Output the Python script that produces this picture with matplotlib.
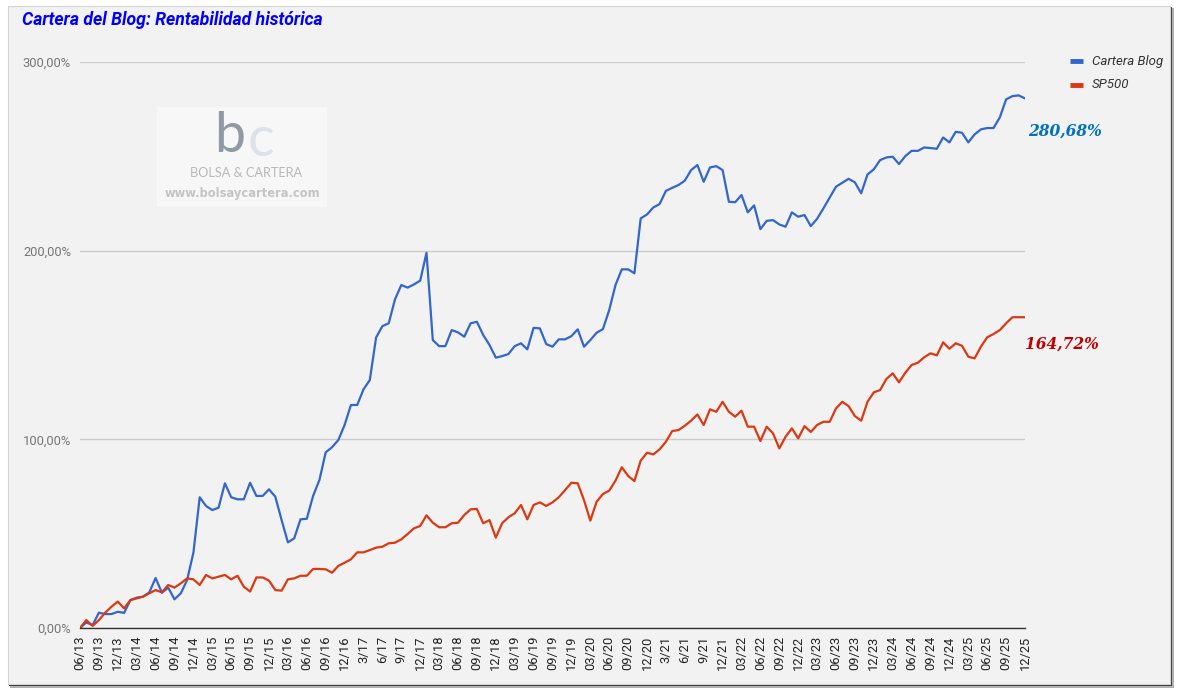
import matplotlib
matplotlib.use("Agg")
import matplotlib.pyplot as plt
from matplotlib.patches import Rectangle
from matplotlib.lines import Line2D
from matplotlib.ticker import FuncFormatter

# ---- data (monthly 06/13 .. 12/25) ----
tick_labels = ["06/13", "09/13", "12/13",
               "03/14", "06/14", "09/14", "12/14",
               "03/15", "06/15", "09/15", "12/15",
               "03/16", "06/16", "09/16", "12/16",
               "3/17", "6/17", "9/17", "12/17",
               "03/18", "06/18", "09/18", "12/18",
               "03/19", "06/19", "09/19", "12/19",
               "03/20", "06/20", "09/20", "12/20",
               "3/21", "6/21", "9/21", "12/21",
               "03/22", "06/22", "09/22", "12/22",
               "03/23", "06/23", "09/23", "12/23",
               "03/24", "06/24", "09/24", "12/24",
               "03/25", "06/25", "09/25", "12/25"]

cartera_blog = [0, 2.9, 1.6, 8.1, 7.4, 7.4, 8.6, 8.0, 14.8, 16.1,
                16.6, 18.9, 26.5, 18.7, 21.4, 15.2, 18.4, 25.4, 39.9, 69.3,
                64.7, 62.5, 63.8, 76.7, 69.3, 68.2, 68.2, 77.0, 70.0, 70.0,
                73.5, 69.6, 57.2, 45.4, 47.5, 57.6, 57.9, 70.0, 78.4, 93.1,
                95.8, 99.6, 107.6, 118.2, 118.2, 126.5, 131.4, 154.0, 160.0, 161.5,
                174.2, 181.8, 180.4, 182.1, 184.1, 198.9, 152.6, 149.4, 149.4, 157.9,
                156.7, 154.4, 161.5, 162.3, 155.3, 150.0, 143.3, 144.1, 145.2, 149.4,
                150.9, 147.7, 159.1, 158.8, 150.5, 149.1, 153.0, 153.0, 154.7, 158.3,
                149.1, 152.6, 156.5, 158.4, 168.5, 181.8, 190.1, 190.1, 188.0, 217.1,
                219.2, 222.9, 224.7, 231.7, 233.3, 234.8, 237.1, 242.7, 245.4, 236.5,
                244.1, 244.8, 242.7, 225.9, 225.7, 229.5, 220.3, 224.0, 211.4, 215.8,
                216.2, 213.9, 212.7, 220.3, 218.0, 218.9, 213.0, 216.9, 222.4, 228.2,
                233.9, 236.0, 238.1, 236.2, 230.4, 240.4, 243.1, 248.0, 249.4, 249.8,
                245.9, 250.1, 252.9, 252.9, 254.7, 254.4, 254.0, 260.0, 257.4, 263.0,
                262.5, 257.4, 261.6, 264.3, 265.0, 265.0, 270.6, 280.2, 281.9, 282.3,
                280.68]

sp500 = [0, 4.2, 1.1, 4.2, 8.1, 11.3, 14.0, 10.4, 14.8, 15.7,
         16.6, 18.4, 20.1, 18.9, 22.8, 21.4, 23.7, 26.3, 25.8, 22.8,
         28.1, 26.3, 27.2, 28.1, 25.8, 27.7, 21.9, 19.3, 26.8, 26.8,
         25.1, 20.1, 19.8, 25.8, 26.3, 27.7, 27.7, 31.3, 31.3, 31.1,
         29.3, 32.9, 34.6, 36.4, 40.1, 40.1, 41.3, 42.6, 43.1, 44.9,
         45.2, 47.0, 49.8, 52.8, 54.1, 59.7, 55.8, 53.4, 53.4, 55.5,
         55.8, 59.9, 62.9, 63.1, 55.5, 57.2, 47.9, 55.5, 58.7, 60.8,
         65.2, 57.6, 65.2, 66.6, 64.7, 66.6, 69.3, 73.1, 77.0, 76.7,
         67.8, 56.9, 66.9, 71.0, 72.8, 78.1, 85.2, 80.6, 77.9, 88.7,
         92.9, 92.0, 94.7, 98.7, 104.4, 104.9, 107.2, 109.9, 113.2, 107.6,
         115.9, 114.6, 119.9, 114.6, 112.0, 115.2, 106.7, 106.7, 99.1, 106.7,
         103.2, 95.2, 101.4, 105.8, 100.5, 107.0, 103.9, 107.6, 109.3, 109.3,
         116.4, 119.9, 117.6, 112.3, 109.9, 119.9, 124.9, 126.1, 132.0, 135.0,
         130.2, 135.3, 139.4, 140.6, 143.5, 145.6, 144.5, 151.4, 148.0, 150.9,
         149.6, 143.8, 142.9, 149.1, 154.1, 155.8, 157.9, 161.5, 164.72, 164.72,
         164.72]

series_names = ["Cartera Blog", "SP500"]
series_colors = ["#3366cc", "#dc3912"]

W, H = 1178, 692
fig = plt.figure(figsize=(W / 100, H / 100), dpi=100, facecolor="white")


def fx(x):
    return x / W


def fy(y):
    return 1 - y / H


# panel with shadow
fig.add_artist(Rectangle((fx(10), fy(688)), fx(1164), 680 / H, transform=fig.transFigure,
                         facecolor="#b0b0b0", edgecolor="none", zorder=0))
fig.add_artist(Rectangle((fx(9), fy(686)), fx(1163), 679 / H, transform=fig.transFigure,
                         facecolor="#3c3c3c", edgecolor="none", zorder=0))
fig.add_artist(Rectangle((fx(8), fy(684)), fx(1162), 678 / H, transform=fig.transFigure,
                         facecolor="#f2f2f2", edgecolor="#d4d4d4", lw=0.8, zorder=0))

# plot area
left, right, top, bottom = 80, 1025, 62, 628
ax = fig.add_axes([fx(left), fy(bottom), fx(right - left), (bottom - top) / H])
ax.patch.set_visible(False)

x = list(range(len(cartera_blog)))
ax.plot(x, cartera_blog, color=series_colors[0], lw=1.6, zorder=3)
ax.plot(x, sp500, color=series_colors[1], lw=1.6, zorder=3)

ax.set_xlim(0, len(x) - 1)
ax.set_ylim(0, 300)
ax.set_yticks([0, 100, 200, 300])
ax.yaxis.set_major_formatter(FuncFormatter(lambda v, p: f"{v:.2f}%".replace(".", ",")))
ax.set_xticks(x[::3])
ax.set_xticklabels(tick_labels, rotation=90, fontsize=9.3, color="#222222", family="Roboto")
ax.tick_params(axis="x", length=0, pad=5.5)
ax.tick_params(axis="y", length=0, pad=6.5, labelsize=9.3, labelcolor="#757575")
for lab in ax.get_yticklabels():
    lab.set_family("Roboto")
ax.grid(axis="y", color="#cccccc", lw=1)
ax.set_axisbelow(True)
for s in ["top", "right", "left"]:
    ax.spines[s].set_visible(False)
ax.spines["bottom"].set_color("#333333")
ax.spines["bottom"].set_linewidth(1)
ax.spines["bottom"].set_zorder(4)

# title
fig.text(fx(22), fy(20), "Cartera del Blog: Rentabilidad histórica", fontsize=12.7,
         fontweight="bold", fontstyle="italic", color="#0000ff", family="Roboto",
         ha="left", va="center")

# legend
for i, (name, col) in enumerate(zip(series_names, series_colors)):
    yy = 61 + 24 * i
    fig.add_artist(Line2D([fx(1070), fx(1083)], [fy(yy), fy(yy)], transform=fig.transFigure,
                          color=col, lw=3.5, solid_capstyle="butt"))
    fig.text(fx(1092), fy(yy), name, fontsize=9.5, fontstyle="italic", color="#333333",
             family="Roboto", ha="left", va="center")

# final value annotations
fig.text(fx(1028), fy(131), "280,68%", fontsize=11.2, fontweight="bold", fontstyle="italic",
         color="#0070c0", family="DejaVu Serif", ha="left", va="center")
fig.text(fx(1025), fy(344), "164,72%", fontsize=11.2, fontweight="bold", fontstyle="italic",
         color="#c00000", family="DejaVu Serif", ha="left", va="center")

# watermark
fig.add_artist(Rectangle((fx(157), fy(207)), fx(170), 100 / H, transform=fig.transFigure,
                         facecolor="#f7f7f7", edgecolor="none", zorder=1))
fig.text(fx(230), fy(136), "b", fontsize=40, color="#8f9aa7", family="Lato",
         ha="center", va="center", zorder=2)
fig.text(fx(261), fy(141), "c", fontsize=40, color="#dde2e8", family="Lato",
         ha="center", va="center", zorder=2)
fig.text(fx(246), fy(173), "BOLSA & CARTERA", fontsize=9.2, color="#b8b8b8",
         family="Lato", ha="center", va="center", zorder=2)
fig.text(fx(242), fy(194), "www.bolsaycartera.com", fontsize=8.3, color="#c4c4c4",
         family="DejaVu Sans", fontweight="bold", ha="center", va="center", zorder=2)

fig.savefig("out.png", dpi=100, facecolor="white")
